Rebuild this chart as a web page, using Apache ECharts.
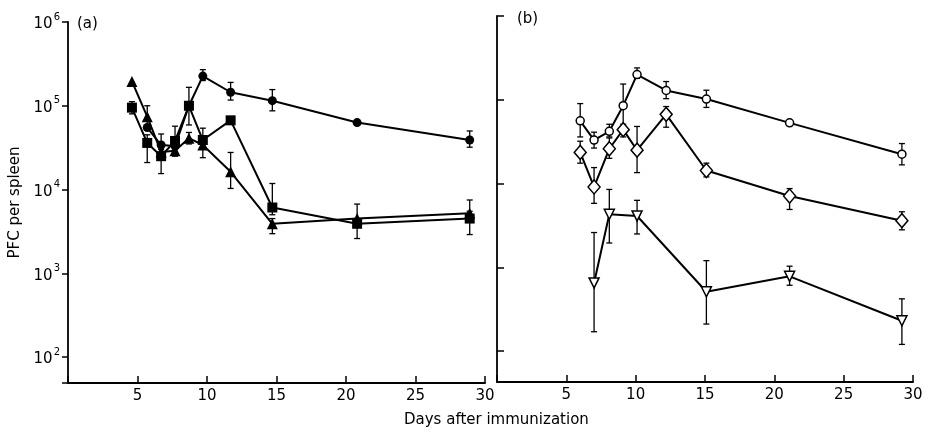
<!DOCTYPE html>
<html>
<head>
<meta charset="UTF-8">
<title></title>
<style>
  html, body { margin: 0; padding: 0; background: #fff; }
</style>
</head>
<body>
<div id="chart" style="width:928px;height:432px;"></div>
<script src="https://cdn.jsdelivr.net/npm/echarts@6/dist/echarts.min.js"></script>
<script>
// panel (a) - filled markers
var daysA = [4.6, 5.7, 6.7, 7.7, 8.7, 9.7, 11.7, 14.7, 20.8, 28.9];
var circA = [null, 5.5e4, 3.4e4, 3.3e4, 1.0e5, 2.26e5, 1.45e5, 1.15e5, 6.3e4, 3.9e4];
var circAhi = [null, null, 4.6e4, null, 1.66e5, 2.7e5, 1.9e5, 1.56e5, null, 5.0e4];
var circAlo = [null, null, 2.6e4, null, 5.9e4, 2.0e5, 1.17e5, 8.7e4, null, 3.2e4];
var triA = [1.95e5, 7.4e4, 2.8e4, 2.9e4, 4.1e4, 3.4e4, 1.63e4, 3.9e3, 4.5e3, 5.2e3];
var triAhi = [null, 1.0e5, null, 3.3e4, 4.8e4, 3.8e4, 2.77e4, 4.5e3, 6.7e3, 7.5e3];
var triAlo = [null, 5.5e4, null, 2.5e4, 3.5e4, 2.4e4, 1.03e4, 2.97e3, 3.9e3, 4.5e3];
var sqA = [9.5e4, 3.6e4, 2.5e4, 3.8e4, 1.0e5, 3.9e4, 6.7e4, 6.1e3, 3.9e3, 4.5e3];
var sqAhi = [1.12e5, 4.5e4, 3.0e4, 5.7e4, null, 5.4e4, null, 1.18e4, 4.5e3, 5.5e3];
var sqAlo = [8.0e4, 2.1e4, 1.55e4, 3.0e4, null, 3.5e4, null, 5.0e3, 2.6e3, 2.9e3];

// panel (b) - open markers
var daysB = [6.0, 7.0, 8.1, 9.1, 10.1, 12.2, 15.1, 21.1, 29.2];
var circB = [5.6e4, 3.3e4, 4.2e4, 8.5e4, 2.0e5, 1.29e5, 1.02e5, 5.3e4, 2.24e4];
var circBhi = [9.0e4, 4.1e4, 5.1e4, 1.54e5, 2.4e5, 1.65e5, 1.3e5, null, 3.0e4];
var circBlo = [3.6e4, 2.65e4, 3.6e4, 4.8e4, 1.8e5, 1.03e5, 8.1e4, null, 1.67e4];
var diamB = [2.35e4, 9.1e3, 2.6e4, 4.4e4, 2.5e4, 6.7e4, 1.43e4, 7.1e3, 3.6e3];
var diamBhi = [3.2e4, 1.55e4, 3.5e4, 5.1e4, 4.8e4, 8.3e4, 1.75e4, 8.7e3, 4.6e3];
var diamBlo = [1.75e4, 5.8e3, 2.0e4, 3.6e4, 1.35e4, 4.7e4, 1.2e4, 4.9e3, 2.8e3];
var daysBtri = [7.0, 8.1, 10.1, 15.1, 21.1, 29.2];
var triB = [6.5e2, 4.3e3, 4.1e3, 5.1e2, 7.8e2, 2.3e2];
var triBhi = [2.6e3, 8.5e3, 6.3e3, 1.2e3, 1.03e3, 4.2e2];
var triBlo = [1.7e2, 1.95e3, 2.5e3, 2.1e2, 6.1e2, 1.2e2];

var xTicks = [5, 10, 15, 20, 25, 30];

var FONT = 'DejaVu Sans';

function pairs(xs, ys) {
  var out = [];
  for (var i = 0; i < xs.length; i++) {
    if (ys[i] != null) out.push([xs[i], ys[i]]);
  }
  return out;
}
function errData(xs, lo, hi) {
  var out = [];
  for (var i = 0; i < xs.length; i++) {
    if (lo[i] != null && hi[i] != null) out.push([xs[i], lo[i], hi[i]]);
  }
  return out;
}
function errRender(params, api) {
  var x = api.value(0);
  var lo = api.coord([x, api.value(1)]);
  var hi = api.coord([x, api.value(2)]);
  var w = 3;
  var st = { stroke: '#000', lineWidth: 1.3 };
  return {
    type: 'group',
    children: [
      { type: 'line', shape: { x1: lo[0], y1: lo[1], x2: hi[0], y2: hi[1] }, style: st },
      { type: 'line', shape: { x1: lo[0] - w, y1: lo[1], x2: lo[0] + w, y2: lo[1] }, style: st },
      { type: 'line', shape: { x1: hi[0] - w, y1: hi[1], x2: hi[0] + w, y2: hi[1] }, style: st }
    ]
  };
}
function errSeries(idx, xs, lo, hi) {
  return {
    type: 'custom', xAxisIndex: idx, yAxisIndex: idx,
    renderItem: errRender, data: errData(xs, lo, hi),
    encode: { x: 0, y: [1, 2] }, z: 1, silent: true
  };
}
function lineSeries(idx, xs, ys, sym, size, open, rot) {
  return {
    type: 'line', xAxisIndex: idx, yAxisIndex: idx,
    data: pairs(xs, ys), symbol: sym, symbolSize: size, symbolRotate: rot || 0,
    showSymbol: true, z: 3,
    lineStyle: { color: '#000', width: 2 },
    itemStyle: open ? { color: '#fff', borderColor: '#000', borderWidth: 1.5 }
                    : { color: '#000', borderColor: '#000', borderWidth: 0 }
  };
}
function powLabel(v) {
  var e = Math.log10(v);
  var r = Math.round(e);
  if (Math.abs(e - r) > 0.01) return '';
  return '{b|10}{s|' + r + '}';
}
function xAxisOpt(idx) {
  return {
    type: 'value', gridIndex: idx, min: 0, max: 30, interval: 5,
    axisLine: { lineStyle: { color: '#000', width: 1.8 } },
    axisTick: { inside: true, length: 7, lineStyle: { color: '#000', width: 1.5 } },
    axisLabel: {
      color: '#000', fontFamily: FONT, fontSize: 15, margin: 6,
      formatter: function (v) { return xTicks.indexOf(v) >= 0 ? String(v) : ''; }
    },
    splitLine: { show: false }
  };
}

var chart = echarts.init(document.getElementById('chart'));
chart.setOption({
  animation: false,
  backgroundColor: '#fff',
  title: [
    { text: '(a)', left: 72, top: 12, textStyle: { fontFamily: FONT, fontSize: 15, fontWeight: 'normal', color: '#000' } },
    { text: '(b)', left: 512, top: 7, textStyle: { fontFamily: FONT, fontSize: 15, fontWeight: 'normal', color: '#000' } },
    { text: 'Days after immunization', left: 399, top: 408, textStyle: { fontFamily: FONT, fontSize: 15, fontWeight: 'normal', color: '#000' } }
  ],
  grid: [
    { left: 68, top: 22, width: 417, height: 361 },
    { left: 497, top: 16, width: 416, height: 366 }
  ],
  xAxis: [xAxisOpt(0), xAxisOpt(1)],
  yAxis: [
    {
      type: 'log', logBase: 10, gridIndex: 0, min: 49, max: 1e6,
      name: 'PFC per spleen', nameLocation: 'middle', nameGap: 45, nameRotate: 90,
      nameTextStyle: { fontFamily: FONT, fontSize: 15, color: '#000' },
      axisLine: { lineStyle: { color: '#000', width: 1.8 } },
      axisTick: { length: 6, lineStyle: { color: '#000', width: 1.5 } },
      axisLabel: {
        formatter: powLabel, margin: 8,
        rich: {
          b: { fontFamily: FONT, fontSize: 15, color: '#000', lineHeight: 20, verticalAlign: 'bottom' },
          s: { fontFamily: FONT, fontSize: 10, color: '#000', verticalAlign: 'top', padding: [0, 0, 0, 1] }
        }
      },
      splitLine: { show: false }
    },
    {
      type: 'log', logBase: 10, gridIndex: 1, min: 42.7, max: 1e6,
      axisLine: { lineStyle: { color: '#000', width: 1.8 } },
      axisTick: { inside: true, length: 7, lineStyle: { color: '#000', width: 1.5 } },
      axisLabel: { show: false },
      splitLine: { show: false }
    }
  ],
  series: [
    errSeries(0, daysA, circAlo, circAhi),
    errSeries(0, daysA, triAlo, triAhi),
    errSeries(0, daysA, sqAlo, sqAhi),
    lineSeries(0, daysA, triA, 'triangle', 11, false),
    lineSeries(0, daysA, sqA, 'rect', 10, false),
    lineSeries(0, daysA, circA, 'circle', 9, false),
    errSeries(1, daysB, circBlo, circBhi),
    errSeries(1, daysB, diamBlo, diamBhi),
    errSeries(1, daysBtri, triBlo, triBhi),
    lineSeries(1, daysB, circB, 'circle', 8, true),
    lineSeries(1, daysB, diamB, 'diamond', [12, 14], true),
    lineSeries(1, daysBtri, triB, 'triangle', 10, true, 180)
  ]
});
</script>
</body>
</html>
